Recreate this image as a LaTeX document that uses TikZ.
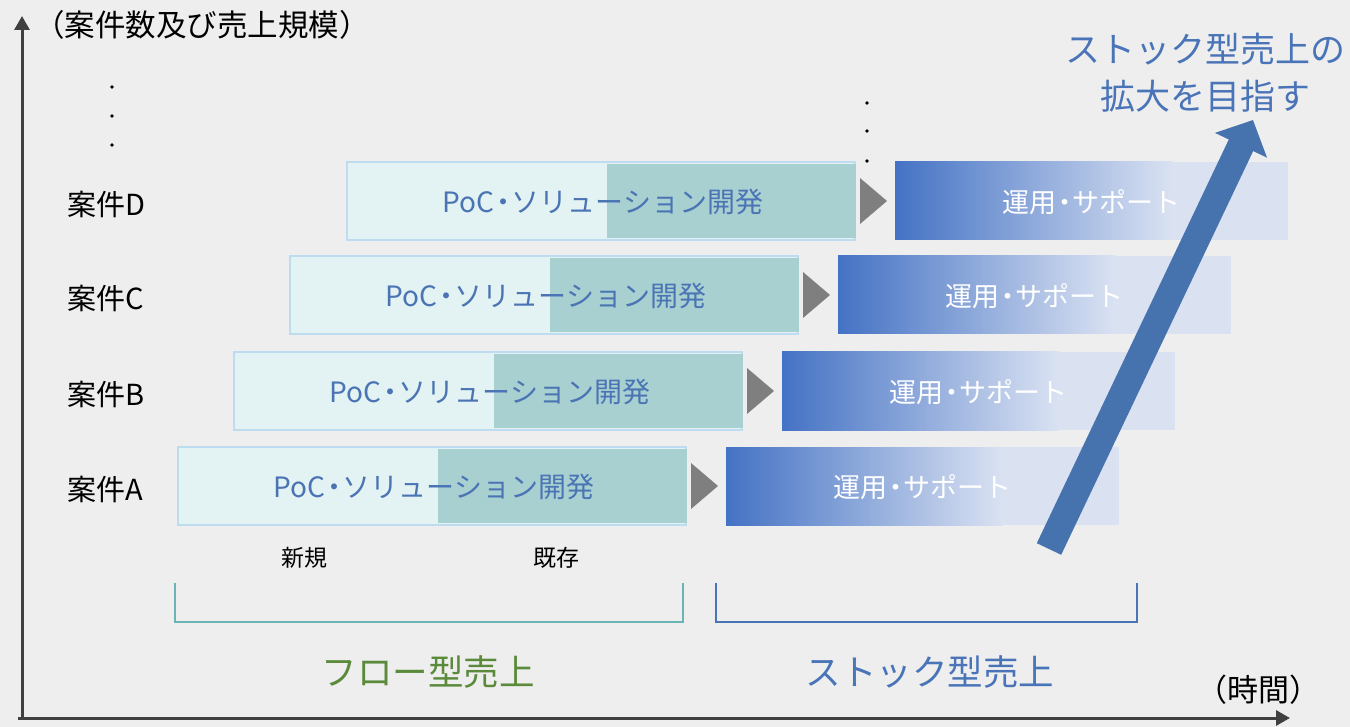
\documentclass[tikz,border=0pt]{standalone}
\usepackage{fontspec}
\newfontfamily\jp{Noto Sans CJK JP}
\usetikzlibrary{arrows.meta,calc}
\definecolor{bgc}{HTML}{EEEEEE}
\definecolor{axisc}{HTML}{404040}
\definecolor{poclight}{HTML}{E3F2F2}
\definecolor{pocborder}{HTML}{BDDCF0}
\definecolor{pocdark}{HTML}{A9D0D1}
\definecolor{poctextc}{HTML}{4A74B4}
\definecolor{trigray}{HTML}{7F7F7F}
\definecolor{opsblue}{HTML}{4472C4}
\definecolor{opslight}{HTML}{DAE2F2}
\definecolor{bigblue}{HTML}{4672AE}
\definecolor{flowbrc}{HTML}{6AB4B6}
\definecolor{stockbrc}{HTML}{4A74B8}
\definecolor{flowtextc}{HTML}{5A8A3A}
\definecolor{stocktextc}{HTML}{4A74B8}
\newcommand{\ndot}{\kern-.2em・\kern-.2em}
\begin{document}
\begin{tikzpicture}[x=1pt,y=-1pt,
  jpf/.style={font={\jp\fontsize{#1}{#1}\selectfont}, inner sep=0pt},
  axisline/.style={draw=axisc, line width=3pt, -{Triangle[length=14pt,width=15pt]}},
  pocbox/.style={draw=pocborder, line width=2.5pt, fill=poclight, minimum width=508pt, minimum height=78pt, inner sep=0pt},
  poctext/.style={jpf=28, text=poctextc},
  opsbox/.style={fill=opslight, minimum width=393pt, minimum height=78pt, inner sep=0pt},
  opstext/.style={jpf=27, text=white},
  rowlabel/.style={jpf=29, text=black, anchor=west},
  bigarrow/.style={draw=bigblue, line width=27pt, -{Triangle[length=28pt,width=56pt]}},
  flowbr/.style={draw=flowbrc, line width=2.5pt},
  stockbr/.style={draw=stockbrc, line width=2.5pt},
]
\useasboundingbox (0,0) rectangle (1350,727);
\fill[bgc] (0,0) rectangle (1350,727);

% axes
\coordinate (origin) at (22,718);
\coordinate (ytop) at (22,16);
\coordinate (xend) at (1290,718);
\draw[axisline] (origin) -- (ytop);
\draw[axisline] ($(origin)+(-4,0)$) -- (xend);
\node[jpf=30.5, anchor=west] (ylab) at (34,25) {（案件数及び売上規模）};
\node[jpf=31] (xlab) at (1258,690) {（時間）};

% dots
\foreach \yy in {87,116,145} \fill[black] (112,\yy) circle (1.8pt);
\foreach \yy in {103,131,161} \fill[black] (867,\yy) circle (1.8pt);

% rows
\foreach \n/\dx/\yc in {A/0/486,B/56/391,C/112/295,D/169/201}{
  \node[rowlabel] (lab\n) at (67,\yc+3) {案件\n};
  \node[pocbox] (poc\n) at (432+\dx,\yc) {};
  \fill[pocdark] (438+\dx,\yc-37) rectangle (687+\dx,\yc+37);
  \node[poctext] (poct\n) at ($(poc\n.center)+(2,1)$) {PoC\ndot ソリューション開発};
  \fill[trigray] (691+\dx,\yc-23) -- (718+\dx,\yc) -- (691+\dx,\yc+23) -- cycle;
  \node[opsbox] (ops\n) at (922.5+\dx,\yc) {};
  \shade[left color=opsblue, right color=opslight] (726+\dx,\yc-39) rectangle (1003+\dx,\yc+39);
  \node[opstext] (opst\n) at ($(ops\n.center)+(0,1)$) {運用\ndot サポート};
}

% big arrow
\coordinate (tail) at (1049,549);
\coordinate (tip) at (1253,120);
\draw[bigarrow] (tail) -- (tip);
\node[font={\jp\fontsize{35}{47}\selectfont}, text=stocktextc, align=center, inner sep=0pt] (goal) at (1205,73) {ストック型売上の\\拡大を目指す};

% brackets
\coordinate (f1) at (175,583);
\coordinate (f2) at (683,622);
\coordinate (s1) at (716,583);
\coordinate (s2) at (1137,622);
\draw[flowbr] (f1) |- (f2) -- (f2 |- f1);
\draw[stockbr] (s1) |- (s2) -- (s2 |- s1);

\node[jpf=23] (new) at (304,558) {新規};
\node[jpf=23] (old) at (556,558) {既存};
\node[jpf=35.5, text=flowtextc] (flow) at (428,672) {フロー型売上};
\node[jpf=35.5, text=stocktextc] (stock) at (930,672) {ストック型売上};
\end{tikzpicture}
\end{document}
